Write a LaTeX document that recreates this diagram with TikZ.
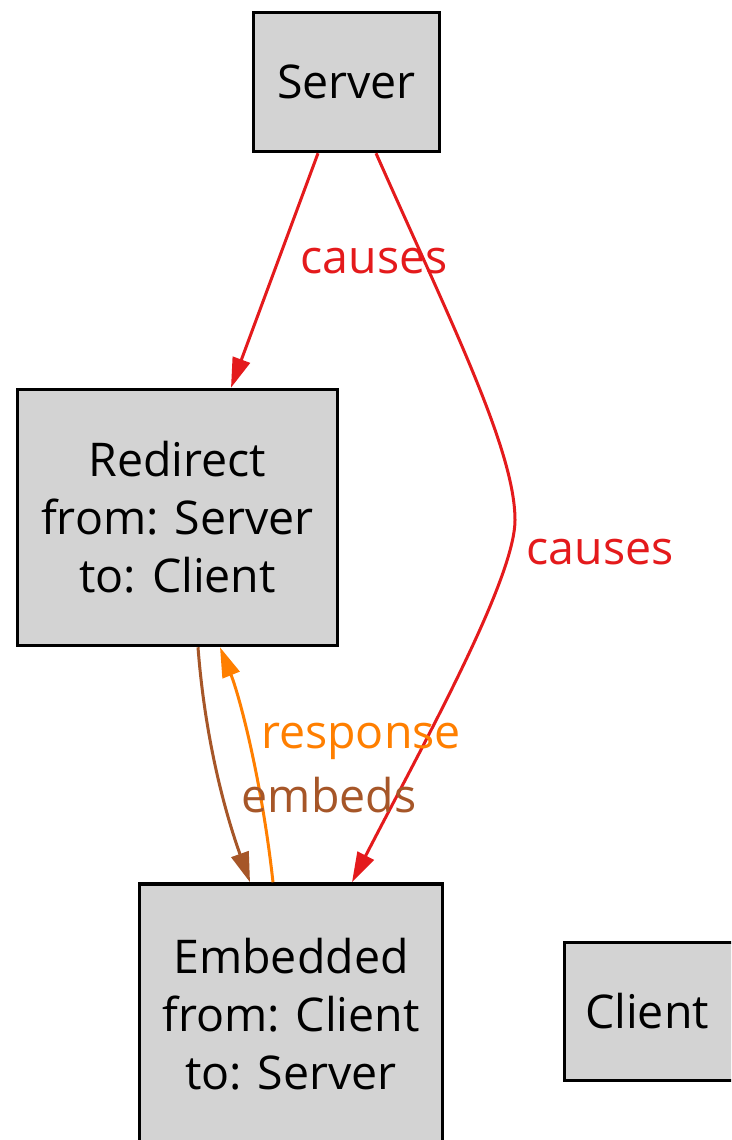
\documentclass[tikz,border=0pt]{standalone}
\usepackage{fontspec}
\setmainfont{Open Sans}
\usetikzlibrary{arrows.meta}
\definecolor{gvred}{HTML}{E41A1C}
\definecolor{gvorange}{HTML}{FF7F00}
\definecolor{gvbrown}{HTML}{A65628}
\definecolor{boxgray}{HTML}{D3D3D3}
\begin{document}
\begin{tikzpicture}[x=1pt,y=-1pt,
  box/.style={draw=black, fill=boxgray, line width=3.5pt, align=center, inner sep=0pt,
    font=\fontsize{46.5}{58}\selectfont},
  conn/.style={line width=3pt, -{Triangle[length=30pt,width=18pt]}},
  lab/.style={font=\fontsize{46.5}{58}\selectfont, anchor=base, inner sep=0pt}]
\clip (0,0) rectangle (731,1140);
\fill[white] (0,0) rectangle (731,1140);

\node[box, minimum width=186pt, minimum height=139pt] (server) at (346.5,82) {Server};
\node[box, minimum width=320pt, minimum height=256pt] (redirect) at (177.5,517.5) {Redirect\\from: Server\\to: Client};
\node[box, minimum width=303pt, minimum height=260pt] (embedded) at (291,1014) {Embedded\\from: Client\\to: Server};
\node[box, minimum width=180pt, minimum height=138pt] (client) at (654.5,1011.5) {\hspace*{-15pt}Client};

\coordinate (bend) at (515,520);

% Server -> Redirect
\draw[conn, gvred] ([xshift=-28.5pt]server.south) -- ([xshift=53.5pt]redirect.north);
% Server -> Embedded
\draw[conn, gvred] ([xshift=29.5pt]server.south) .. controls +(74,167) and +(0,-70) .. (bend)
  .. controls +(0,60) and +(68,-132) .. ([xshift=61pt]embedded.north);
% Redirect -> Embedded (embeds)
\draw[conn, gvbrown] ([xshift=20.5pt]redirect.south) .. controls +(7,92) and +(-25,-70) .. ([xshift=-41pt]embedded.north);
% Embedded -> Redirect (response)
\draw[conn, gvorange] ([xshift=-18pt]embedded.north) .. controls +(-11,-100) and +(20,50) .. ([xshift=42.5pt]redirect.south);

\node[lab, text=gvred] (lcauses1) at (374,273) {causes};
\node[lab, text=gvred] (lcauses2) at (600,564) {causes};
\node[lab, text=gvorange] (lresponse) at (361,748) {response};
\node[lab, text=gvbrown] (lembeds) at (329,812) {embeds};
\end{tikzpicture}
\end{document}
